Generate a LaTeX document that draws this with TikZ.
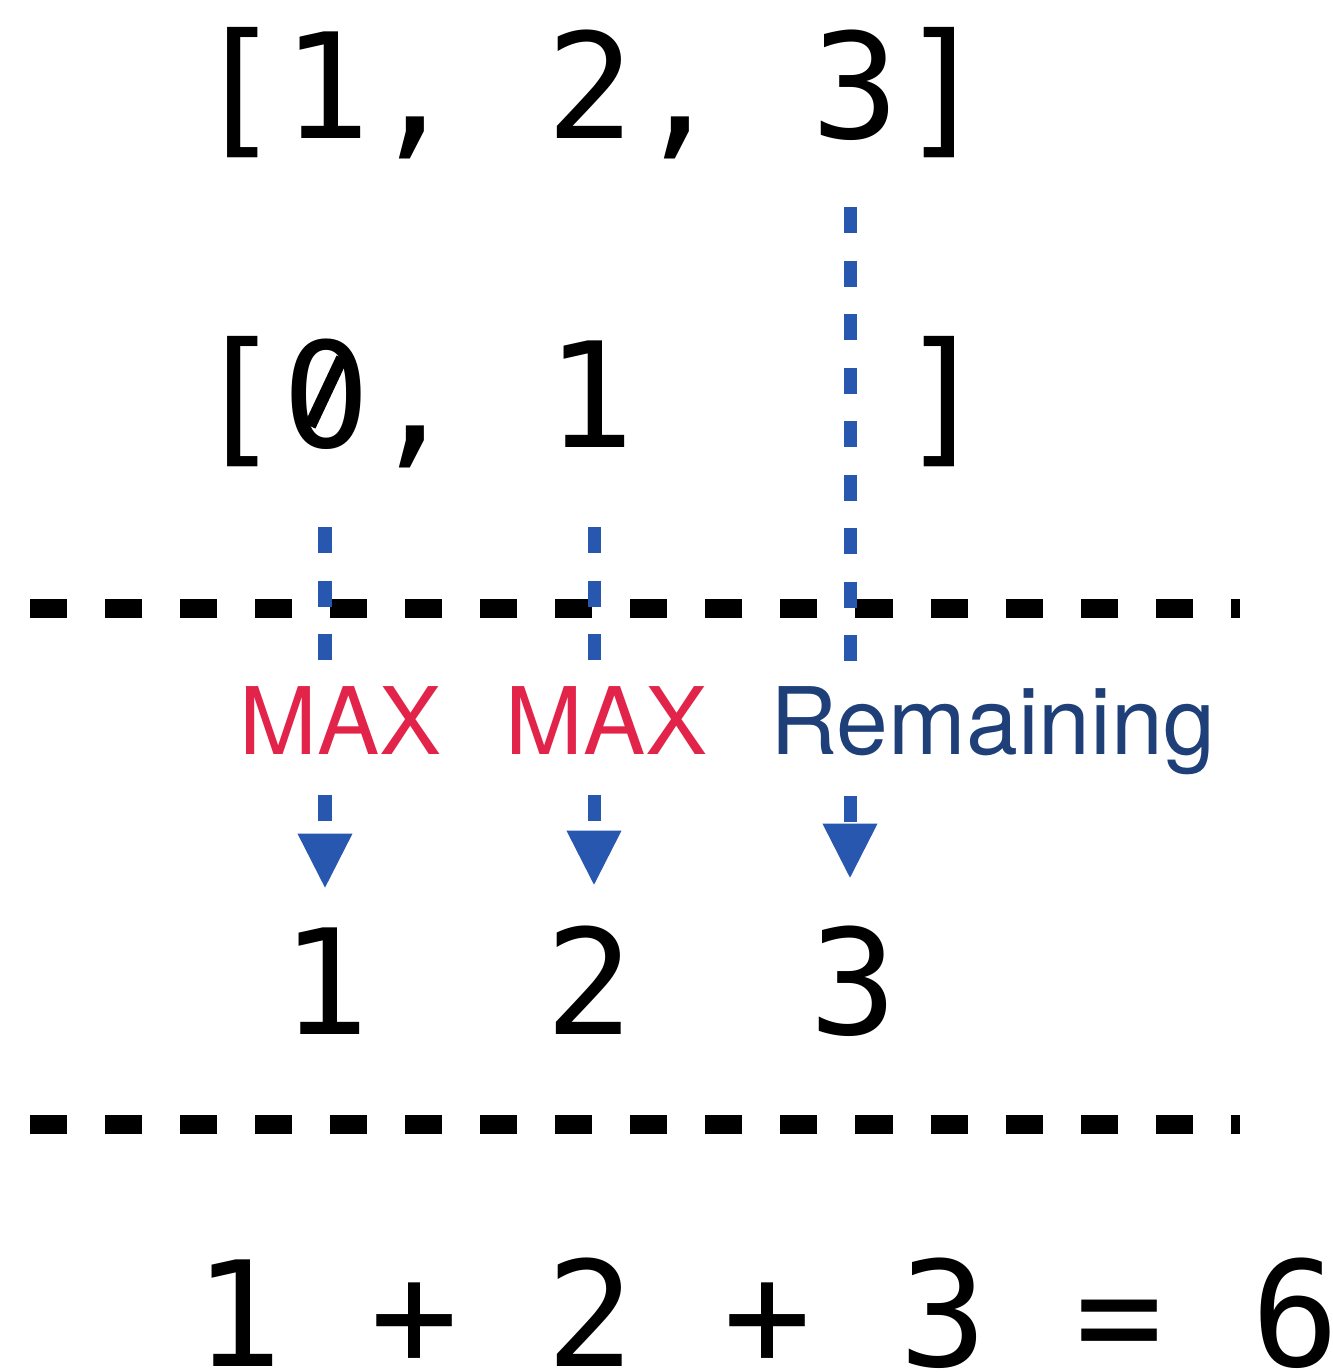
\documentclass[tikz,border=0pt]{standalone}
\usepackage{fontspec}
\setmainfont{TeX Gyre Heros}
\setmonofont{DejaVu Sans Mono}
\usetikzlibrary{arrows.meta}
\definecolor{flowblue}{HTML}{2857AF}
\definecolor{maxred}{HTML}{E2234A}
\definecolor{restblue}{HTML}{1E3F77}
\tikzset{
  code/.style={anchor=base west,inner sep=0,font=\fontsize{41.6}{50}\selectfont\ttfamily},
  digit/.style={anchor=base,inner sep=0,font=\fontsize{41.6}{50}\selectfont\ttfamily},
  sep/.style={line width=0.19cm,dash pattern=on 0.37cm off 0.38cm},
  flow/.style={flowblue,line width=0.13cm,dash pattern=on 0.26cm off 0.275cm,
    -{Triangle[length=0.54cm,width=0.55cm,line width=0pt]}},
  tag/.style={anchor=base west,fill=white,inner sep=4.5pt,font=\fontsize{26.5}{30}\selectfont}
}
\begin{document}
\begin{tikzpicture}[x=0.01cm,y=-0.01cm]
\useasboundingbox (0,0) rectangle (1332,1372);
\node[code] (src) at (194,138) {[1, 2, 3]};
\node[code] (run) at (194,447) {[0, 1\hphantom{000}]};
\coordinate (zc) at (326,393);
\fill[white] (zc) ellipse [x radius=13, y radius=17];
\draw[line width=0.12cm] (zc) ++(-16,33) -- ++(32,-68);
\foreach \c/\x in {1/326,2/590,3/854}{\node[digit] (o\c) at (\x,1034) {\c};}
\node[code] (sum) at (194,1366) {1 + 2 + 3 = 6};
\draw[sep] (30,608) -- (1240,608);
\draw[sep] (30,1124) -- (1240,1124);
\foreach \c/\x/\y/\s in {1/325/527/0.39,2/594/527/0.40,3/850/207/0.47}
  \draw[flow,shorten >=\s cm] (\x,\y) coordinate (a\c) -- (a\c |- o\c.north);
\node[tag,text=maxred] (m1) at (223,754) {MAX};
\node[tag,text=maxred] (m2) at (489,754) {MAX};
\node[tag,text=restblue] (rem) at (754,754) {Remaining};
\end{tikzpicture}
\end{document}
